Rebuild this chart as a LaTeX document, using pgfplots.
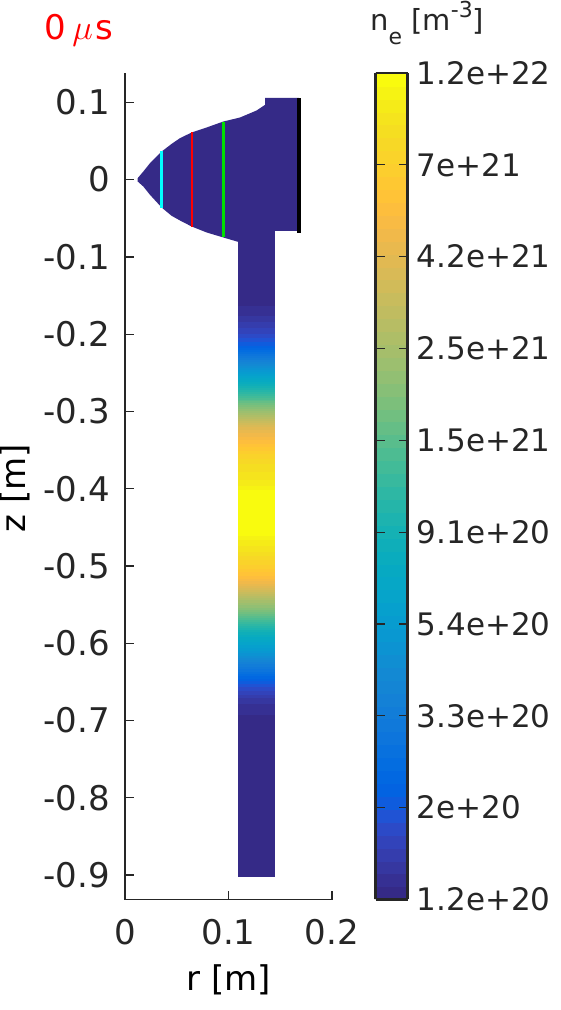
\documentclass[border=0pt]{standalone}
\usepackage{graphicx}
\usepackage{pgfplots}
\usepackage{fontspec}
\setmainfont{DejaVu Sans}
\pgfplotsset{compat=1.18}

\definecolor{axcol}{HTML}{262626}
\definecolor{headcol}{rgb}{0.2081,0.1663,0.5292}
\definecolor{chordcyan}{rgb}{0,1,1}
\definecolor{chordred}{rgb}{1,0,0}
\definecolor{chordgreen}{rgb}{0,0.88,0}

% MATLAB parula, 64 levels
\pgfplotsset{colormap={parula64}{
rgb=(0.2081,0.1663,0.5292) rgb=(0.2116,0.1898,0.5777) rgb=(0.2123,0.2138,0.6270) rgb=(0.2081,0.2386,0.6771)
rgb=(0.1959,0.2645,0.7279) rgb=(0.1707,0.2919,0.7792) rgb=(0.1253,0.3242,0.8303) rgb=(0.0591,0.3598,0.8683)
rgb=(0.0117,0.3875,0.8820) rgb=(0.0060,0.4086,0.8828) rgb=(0.0165,0.4266,0.8786) rgb=(0.0329,0.4430,0.8720)
rgb=(0.0498,0.4586,0.8641) rgb=(0.0629,0.4737,0.8554) rgb=(0.0723,0.4887,0.8467) rgb=(0.0779,0.5040,0.8384)
rgb=(0.0793,0.5200,0.8312) rgb=(0.0749,0.5375,0.8263) rgb=(0.0641,0.5570,0.8240) rgb=(0.0488,0.5772,0.8228)
rgb=(0.0343,0.5966,0.8199) rgb=(0.0265,0.6137,0.8135) rgb=(0.0239,0.6287,0.8038) rgb=(0.0231,0.6418,0.7913)
rgb=(0.0228,0.6535,0.7768) rgb=(0.0267,0.6642,0.7607) rgb=(0.0384,0.6743,0.7436) rgb=(0.0590,0.6838,0.7254)
rgb=(0.0843,0.6928,0.7062) rgb=(0.1133,0.7015,0.6859) rgb=(0.1453,0.7098,0.6646) rgb=(0.1801,0.7177,0.6424)
rgb=(0.2178,0.7250,0.6193) rgb=(0.2586,0.7317,0.5954) rgb=(0.3022,0.7376,0.5712) rgb=(0.3482,0.7424,0.5473)
rgb=(0.3953,0.7459,0.5244) rgb=(0.4420,0.7481,0.5033) rgb=(0.4871,0.7491,0.4840) rgb=(0.5300,0.7491,0.4661)
rgb=(0.5709,0.7485,0.4494) rgb=(0.6099,0.7473,0.4337) rgb=(0.6473,0.7456,0.4188) rgb=(0.6834,0.7435,0.4044)
rgb=(0.7184,0.7411,0.3905) rgb=(0.7525,0.7384,0.3768) rgb=(0.7858,0.7356,0.3633) rgb=(0.8185,0.7327,0.3498)
rgb=(0.8507,0.7299,0.3360) rgb=(0.8824,0.7274,0.3217) rgb=(0.9139,0.7258,0.3063) rgb=(0.9450,0.7261,0.2886)
rgb=(0.9739,0.7314,0.2666) rgb=(0.9938,0.7455,0.2403) rgb=(0.9990,0.7653,0.2164) rgb=(0.9955,0.7861,0.1967)
rgb=(0.9880,0.8066,0.1794) rgb=(0.9789,0.8271,0.1633) rgb=(0.9697,0.8481,0.1475) rgb=(0.9626,0.8705,0.1309)
rgb=(0.9589,0.8949,0.1132) rgb=(0.9598,0.9218,0.0948) rgb=(0.9661,0.9514,0.0755) rgb=(0.9763,0.9831,0.0538)
}}

\begin{document}
\begin{tikzpicture}[x=1pt,y=1pt]
\useasboundingbox (0,0) rectangle (561,1010);
\begin{axis}[
	at={(125pt,110.5pt)}, anchor=south west,
	scale only axis, width=207pt, height=826.5pt,
	xmin=0, xmax=0.2, ymin=-0.9317, ymax=0.138,
	axis x line*=bottom, axis y line*=left,
	axis line style={axcol, line width=1.4pt, -},
	tick style={axcol, line width=1.3pt},
	tick align=inside, major tick length=9pt,
	xtick={0,0.1,0.2}, xticklabels={0,0.1,0.2},
	ytick={0.1,0,-0.1,-0.2,-0.3,-0.4,-0.5,-0.6,-0.7,-0.8,-0.9},
	yticklabels={0.1,0,-0.1,-0.2,-0.3,-0.4,-0.5,-0.6,-0.7,-0.8,-0.9},
	font=\fontsize{34}{40}\selectfont,
	tick label style={text=axcol, font=\fontsize{34}{40}\selectfont, inner sep=0pt},
	xticklabel style={anchor=base, yshift=-44.5pt},
	yticklabel style={anchor=east, xshift=-15pt},
	label style={text=axcol},
	xlabel={r [m]}, ylabel={z [m]},
	every axis x label/.style={at={(axis description cs:0.5,0)}, anchor=base, yshift=-90.5pt},
	every axis y label/.style={at={(axis description cs:0,0.4975)}, rotate=90, anchor=base, yshift=99pt},
	colormap name=parula64,
	colormap access=piecewise constant,
	point meta min=20.0792, point meta max=22.0792,
	colorbar sampled,
	colorbar style={
		at={(parent axis.south east)}, anchor=south west, xshift=35pt,
		scale only axis, width=32pt, height=826.5pt,
		samples=65,
		axis line style={axcol, line width=2.2pt},
		xtick=\empty,
		ytick={20.0792,20.3014,20.5236,20.7459,20.9681,21.1903,21.4125,21.6348,21.8570,22.0792},
		yticklabels={1.2e+20,2e+20,3.3e+20,5.4e+20,9.1e+20,1.5e+21,2.5e+21,4.2e+21,7e+21,1.2e+22},
		tick align=inside, major tick length=9pt,
		tick style={axcol, line width=1.3pt},
		yticklabel style={text=axcol, font=\fontsize{31}{36}\selectfont, inner sep=0pt, anchor=west, xshift=9pt},
		yticklabel pos=right,
	},
]
% head of the device
\addplot[fill=headcol, draw=none, forget plot] coordinates {
	(0.01224,0.0019) (0.01771,0.0105) (0.02415,0.0213) (0.03543,0.0364) (0.04509,0.0463)
	(0.05314,0.0537) (0.06441,0.0610) (0.07890,0.0675) (0.09501,0.0752) (0.11111,0.0804)
	(0.12721,0.0895) (0.13527,0.0968) (0.13527,0.1059) (0.16812,0.1059) (0.16812,-0.0663)
	(0.1449,-0.0663) (0.1449,-0.0805) (0.10918,-0.0805) (0.09501,-0.0749) (0.07890,-0.0684) (0.06441,-0.0607)
	(0.05314,-0.0529) (0.04509,-0.0469) (0.03543,-0.0361) (0.02415,-0.0197) (0.01771,-0.0089)
	(0.01224,-0.0024)
} \closedcycle;
% column: r, z, log10(ne)
\addplot[surf, shader=interp, mesh/cols=2, point meta=explicit, forget plot]
	table[x=r, y=z, meta=m] {
r z m
0.1092 -0.0676 20.095
0.1449 -0.0676 20.095
0.1092 -0.1560 20.095
0.1449 -0.1560 20.095
0.1092 -0.1700 20.126
0.1449 -0.1700 20.126
0.1092 -0.1800 20.157
0.1449 -0.1800 20.157
0.1092 -0.1880 20.189
0.1449 -0.1880 20.189
0.1092 -0.1960 20.220
0.1449 -0.1960 20.220
0.1092 -0.2074 20.282
0.1449 -0.2074 20.282
0.1092 -0.2164 20.345
0.1449 -0.2164 20.345
0.1092 -0.2268 20.470
0.1449 -0.2268 20.470
0.1092 -0.2372 20.595
0.1449 -0.2372 20.595
0.1092 -0.2462 20.720
0.1449 -0.2462 20.720
0.1092 -0.2553 20.814
0.1449 -0.2553 20.814
0.1092 -0.2657 20.939
0.1449 -0.2657 20.939
0.1092 -0.2760 21.064
0.1449 -0.2760 21.064
0.1092 -0.2851 21.189
0.1449 -0.2851 21.189
0.1092 -0.2954 21.314
0.1449 -0.2954 21.314
0.1092 -0.3058 21.439
0.1449 -0.3058 21.439
0.1092 -0.3149 21.564
0.1449 -0.3149 21.564
0.1092 -0.3252 21.657
0.1449 -0.3252 21.657
0.1092 -0.3342 21.720
0.1449 -0.3342 21.720
0.1092 -0.3433 21.782
0.1449 -0.3433 21.782
0.1092 -0.3524 21.845
0.1449 -0.3524 21.845
0.1092 -0.3627 21.907
0.1449 -0.3627 21.907
0.1092 -0.3731 21.939
0.1449 -0.3731 21.939
0.1092 -0.3835 21.970
0.1449 -0.3835 21.970
0.1092 -0.3938 22.001
0.1449 -0.3938 22.001
0.1092 -0.4041 22.064
0.1449 -0.4041 22.064
0.1092 -0.4572 22.064
0.1449 -0.4572 22.064
0.1092 -0.4675 22.001
0.1449 -0.4675 22.001
0.1092 -0.4779 21.970
0.1449 -0.4779 21.970
0.1092 -0.4896 21.907
0.1449 -0.4896 21.907
0.1092 -0.4999 21.845
0.1449 -0.4999 21.845
0.1092 -0.5103 21.782
0.1449 -0.5103 21.782
0.1092 -0.5207 21.689
0.1449 -0.5207 21.689
0.1092 -0.5310 21.564
0.1449 -0.5310 21.564
0.1092 -0.5414 21.439
0.1449 -0.5414 21.439
0.1092 -0.5518 21.345
0.1449 -0.5518 21.345
0.1092 -0.5621 21.220
0.1449 -0.5621 21.220
0.1092 -0.5725 21.095
0.1449 -0.5725 21.095
0.1092 -0.5828 20.970
0.1449 -0.5828 20.970
0.1092 -0.5932 20.876
0.1449 -0.5932 20.876
0.1092 -0.6036 20.782
0.1449 -0.6036 20.782
0.1092 -0.6139 20.689
0.1449 -0.6139 20.689
0.1092 -0.6243 20.564
0.1449 -0.6243 20.564
0.1092 -0.6346 20.470
0.1449 -0.6346 20.470
0.1092 -0.6437 20.376
0.1449 -0.6437 20.376
0.1092 -0.6541 20.282
0.1449 -0.6541 20.282
0.1092 -0.6631 20.220
0.1449 -0.6631 20.220
0.1092 -0.6735 20.157
0.1449 -0.6735 20.157
0.1092 -0.6838 20.126
0.1449 -0.6838 20.126
0.1092 -0.6994 20.095
0.1449 -0.6994 20.095
0.1092 -0.9013 20.095
0.1449 -0.9013 20.095
};
% probe chords
\addplot[chordcyan, line width=2.6pt, forget plot] coordinates {(0.0351,0.0364) (0.0351,-0.0361)};
\addplot[chordred, line width=2pt, forget plot] coordinates {(0.0651,0.0610) (0.0651,-0.0607)};
\addplot[chordgreen, line width=2.4pt, forget plot] coordinates {(0.0950,0.0752) (0.0950,-0.0749)};
\addplot[black, line width=4pt, forget plot] coordinates {(0.1684,0.1055) (0.1684,-0.0690)};
\end{axis}
\node[anchor=base west, text=red, inner sep=0pt, font=\fontsize{34}{40}\selectfont] at (44.5,970) {0\hspace{6pt}\scalebox{1.4}{$\mu$}\hspace{3pt}s};
\node[anchor=base west, text=axcol, inner sep=0pt, font=\fontsize{29}{34}\selectfont] at (370,979)
	{n\raisebox{-14pt}{\fontsize{22}{26}\selectfont e} [m\raisebox{13pt}{\fontsize{22}{26}\selectfont -3}]};
\end{tikzpicture}
\end{document}
